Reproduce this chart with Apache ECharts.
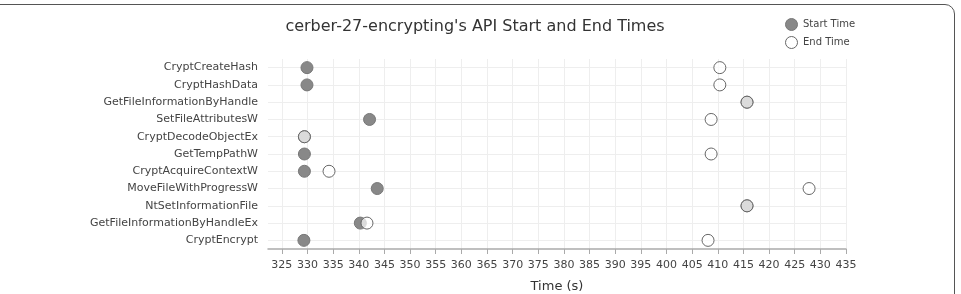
<!DOCTYPE html>
<html>
<head>
<meta charset="utf-8">
<script src="https://cdn.jsdelivr.net/npm/echarts@6/dist/echarts.min.js"></script>
<style>
  html, body { margin: 0; padding: 0; background: #fff; overflow: hidden; }
  #frame {
    position: absolute; left: -12px; top: 4px; width: 967px; height: 310px;
    border: 1.5px solid #555; border-radius: 10px; box-sizing: border-box;
  }
  #draw_area { position: absolute; left: 0; top: 0; width: 961px; height: 294px; }
</style>
</head>
<body>
<div id="frame"></div>
<div id="draw_area"></div>
<script>
"use strict";

// API names, top to bottom
var api_names = [
    "CryptCreateHash", "CryptHashData", "GetFileInformationByHandle",
    "SetFileAttributesW", "CryptDecodeObjectEx", "GetTempPathW",
    "CryptAcquireContextW", "MoveFileWithProgressW", "NtSetInformationFile",
    "GetFileInformationByHandleEx", "CryptEncrypt"
];

// start / end times in seconds, same order as api_names
var start_times = [329.9, 329.9, 415.7, 342.1, 329.4, 329.4, 329.4, 343.6, 415.7, 340.3, 329.3];
var end_times = [410.4, 410.4, 415.7, 408.7, 329.4, 408.7, 334.2, 427.8, 415.7, 341.6, 408.1];

// x axis tick labels
var x_ticks = [325, 330, 335, 340, 345, 350, 355, 360, 365, 370, 375, 380, 385, 390, 395, 400, 405, 410, 415, 420, 425, 430, 435];
var y_ticks = api_names.map(function (n, i) { return i; });

var font = "DejaVu Sans";

function to_points(values) {
    return values.map(function (v, i) { return [v, i]; });
}

var option = {
    animation: false,
    title: {
        text: "cerber-27-encrypting's API Start and End Times",
        left: 470, top: 14, textAlign: "center",
        textStyle: { fontFamily: font, fontSize: 16, fontWeight: "normal", color: "#333" }
    },
    legend: {
        orient: "vertical",
        left: 780, top: 13,
        itemWidth: 13, itemHeight: 12, itemGap: 5,
        textStyle: { fontFamily: font, fontSize: 10, color: "#444" },
        data: [
            { name: "Start Time", icon: "circle", itemStyle: { color: "#888", borderColor: "#777", borderWidth: 1 } },
            { name: "End Time", icon: "circle", itemStyle: { color: "#fff", borderColor: "#666", borderWidth: 1 } }
        ]
    },
    grid: { left: 268, right: 115, top: 59, bottom: 45, containLabel: false, outerBoundsMode: "none" },
    xAxis: {
        type: "value",
        min: 322.3, max: 435,
        name: "Time (s)",
        nameLocation: "middle", nameGap: 31,
        nameTextStyle: { fontFamily: font, fontSize: 13, color: "#333" },
        axisLine: { show: true, onZero: false, lineStyle: { color: "#aaa", width: 1.5 } },
        axisTick: { show: true, length: 5, customValues: x_ticks, lineStyle: { color: "#aaa" } },
        axisLabel: { customValues: x_ticks, fontFamily: font, fontSize: 11, color: "#444", margin: 11 },
        splitLine: { show: true, lineStyle: { color: "#eee", width: 1 } }
    },
    yAxis: {
        type: "value",
        inverse: true,
        min: -0.5, max: 10.5,
        axisLine: { show: false },
        axisTick: { show: false, customValues: y_ticks },
        axisLabel: {
            customValues: y_ticks,
            fontFamily: font, fontSize: 11, color: "#444", margin: 10,
            formatter: function (v) { return api_names[Math.round(v)] || ""; }
        },
        splitLine: { show: true, lineStyle: { color: "#eee", width: 1 } }
    },
    series: [
        {
            name: "Start Time",
            type: "scatter",
            symbol: "circle",
            symbolSize: 12,
            itemStyle: { color: "#888", borderColor: "#777", borderWidth: 1, opacity: 1 },
            data: to_points(start_times),
            z: 2
        },
        {
            name: "End Time",
            type: "scatter",
            symbol: "circle",
            symbolSize: 12,
            itemStyle: { color: "rgba(255,255,255,0.7)", borderColor: "#666", borderWidth: 1, opacity: 1 },
            data: to_points(end_times),
            z: 3
        }
    ]
};

var chart_object = echarts.init(document.getElementById("draw_area"), null, { renderer: "canvas" });
chart_object.setOption(option);
</script>
</body>
</html>
